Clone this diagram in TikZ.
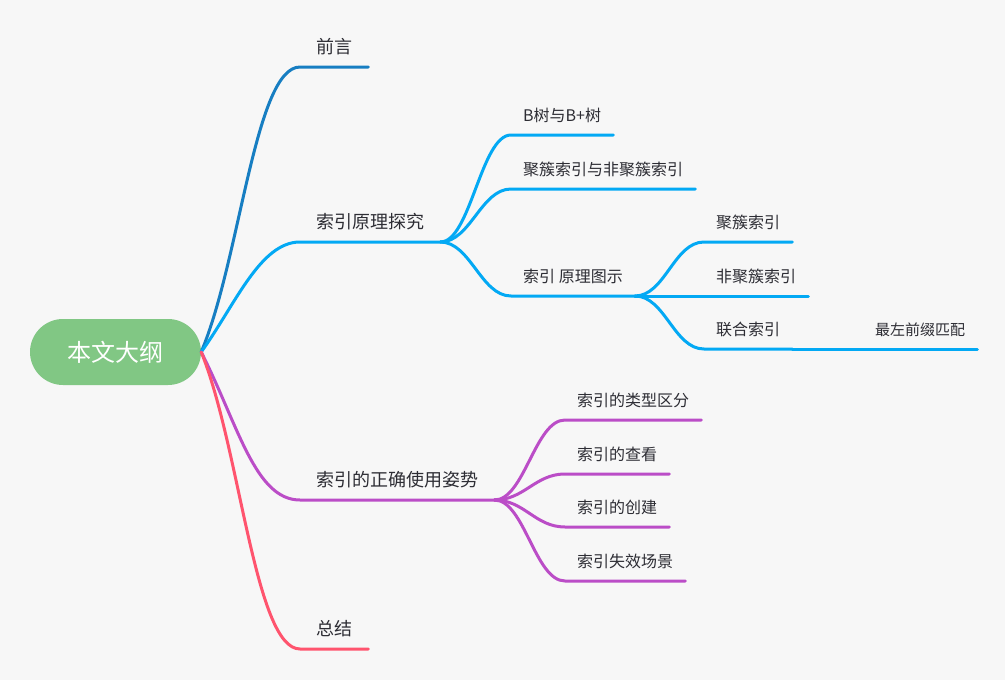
\documentclass[tikz,border=0pt]{standalone}
\usepackage{fontspec}
\newfontfamily\cjk{Noto Sans CJK SC}
\usepackage{xcolor}
\usepackage{tikz}

\definecolor{bg}{RGB}{247,247,247}
\definecolor{rootgreen}{RGB}{129,199,132}
\definecolor{ink}{RGB}{45,45,52}
\definecolor{qyblue}{RGB}{23,126,194}
\definecolor{ylblue}{RGB}{3,169,244}
\definecolor{sypurple}{RGB}{187,77,199}
\definecolor{zjred}{RGB}{255,84,110}

\begin{document}
\begin{tikzpicture}[
  x=1pt, y=-1pt,
  root/.style={fill=rootgreen, rounded corners=33pt, minimum width=171pt,
    minimum height=66pt, inner sep=0pt, text=white,
    font=\cjk\fontsize{24pt}{28pt}\selectfont},
  topic/.style={anchor=south west, inner xsep=16pt, inner ysep=13pt,
    text depth=0pt, text=ink, font=\cjk\fontsize{18pt}{22pt}\selectfont},
  sub/.style={topic, inner xsep=12pt, font=\cjk\fontsize{16pt}{20pt}\selectfont},
  leaf/.style={sub, font=\cjk\fontsize{15pt}{18pt}\selectfont},
  lk/.style={line width=3pt, line cap=round}
]
\fill[bg] (0,0) rectangle (1005,680);
\useasboundingbox (0,0) rectangle (1005,680);

\node[root] (root) at (115.5,352) {本文大纲};
\node[topic] (qy) at (300,67) {前言};
\node[topic] (yl) at (300,242) {索引原理探究};
\node[topic] (sy) at (300,500) {索引的正确使用姿势};
\node[topic] (zj) at (300,649) {总结};
\node[sub] (bs) at (511,135) {B树与B+树};
\node[sub] (jc) at (511,189) {聚簇索引与非聚簇索引};
\node[sub] (tu) at (511,296) {索引 原理图示};
\node[sub] (jcs) at (704,242) {聚簇索引};
\node[sub] (fjc) at (704,296) {非聚簇索引};
\node[sub] (lh) at (704,349) {联合索引};
\node[leaf] (zz) at (863,349) {最左前缀匹配};
\node[sub] (lx) at (565,420) {索引的类型区分};
\node[sub] (ck) at (565,474) {索引的查看};
\node[sub] (cj) at (565,527) {索引的创建};
\node[sub] (sx) at (565,581) {索引失效场景};

\draw[lk, qyblue] (root.east) .. controls +(39,-92) and +(-45,0) .. (qy.south west) -- (qy.south east);
\draw[lk, ylblue] (root.east) .. controls +(34,-47) and +(-40,0) .. (yl.south west) -- (yl.south east);
\draw[lk, sypurple] (root.east) .. controls +(37,73) and +(-45,0) .. (sy.south west) -- (sy.south east);
\draw[lk, zjred] (root.east) .. controls +(39,96) and +(-45,0) .. (zj.south west) -- (zj.south east);

\draw[lk, ylblue] (yl.south east) .. controls +(30,0) and +(-30,0) .. (bs.south west) -- (bs.south east);
\draw[lk, ylblue] (yl.south east) .. controls +(30,0) and +(-30,0) .. (jc.south west) -- (jc.south east);
\draw[lk, ylblue] (yl.south east) .. controls +(30,0) and +(-30,0) .. (tu.south west) -- (tu.south east);
\draw[lk, ylblue] (tu.south east) .. controls +(30,0) and +(-30,0) .. (jcs.south west) -- (jcs.south east);
\draw[lk, ylblue] (tu.south east) -- (fjc.south west) -- (fjc.south east);
\draw[lk, ylblue] (tu.south east) .. controls +(30,0) and +(-30,0) .. (lh.south west) -- (lh.south east);
\draw[lk, ylblue] (lh.south east) -- (zz.south west) -- (zz.south east);

\draw[lk, sypurple] (sy.south east) .. controls +(30,0) and +(-30,0) .. (lx.south west) -- (lx.south east);
\draw[lk, sypurple] (sy.south east) .. controls +(30,0) and +(-30,0) .. (ck.south west) -- (ck.south east);
\draw[lk, sypurple] (sy.south east) .. controls +(30,0) and +(-30,0) .. (cj.south west) -- (cj.south east);
\draw[lk, sypurple] (sy.south east) .. controls +(30,0) and +(-30,0) .. (sx.south west) -- (sx.south east);
\end{tikzpicture}
\end{document}
